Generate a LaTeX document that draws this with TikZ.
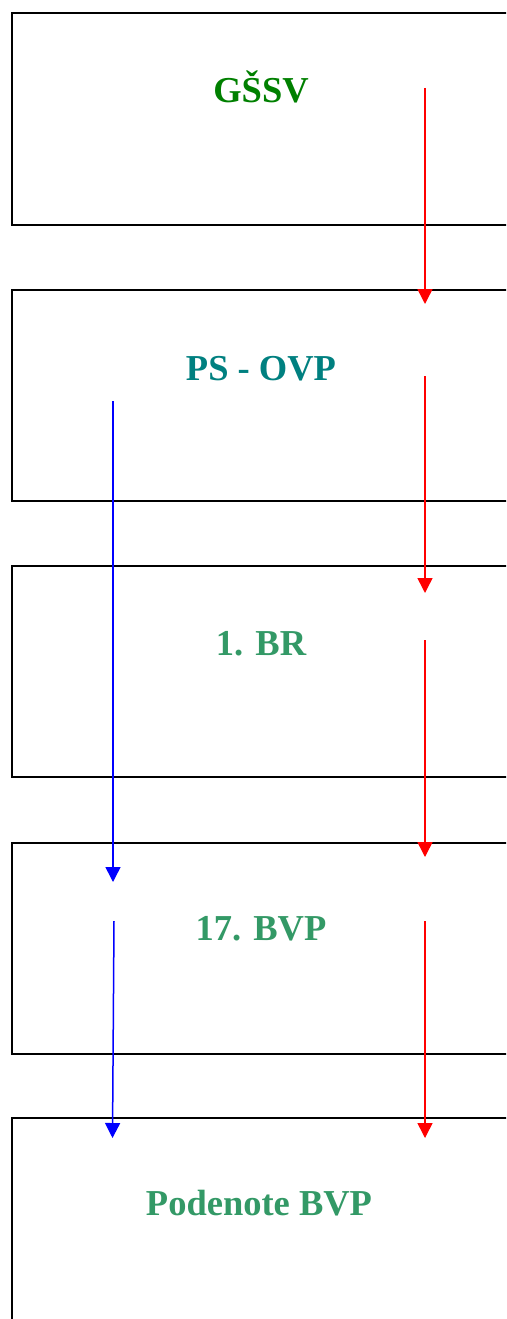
\documentclass[tikz,border=0pt]{standalone}
\usepackage{fontspec}
\setmainfont{Liberation Serif}
\usetikzlibrary{arrows.meta}
\definecolor{gssv}{RGB}{0,128,0}
\definecolor{teal2}{RGB}{0,128,128}
\definecolor{sea}{RGB}{51,153,102}
\tikzset{
  box/.style={draw=black, line width=2pt, rectangle, anchor=north west, inner sep=0pt, minimum width=520pt, minimum height=211pt},
  lbl/.style={font=\fontsize{36.5}{40}\selectfont\bfseries, anchor=base, inner sep=0pt},
  redarr/.style={draw={rgb,255:red,255;green,0;blue,0}, line width=1.5pt, -{Triangle[length=15pt,width=15pt]}},
  bluearr/.style={draw={rgb,255:red,0;green,0;blue,255}, line width=1.5pt, -{Triangle[length=15pt,width=15pt]}},
}
\begin{document}
\begin{tikzpicture}[x=1pt,y=-1pt]
\useasboundingbox (0,0) rectangle (506,1319);
\clip (0,0) rectangle (506,1319);
\fill[white] (0,0) rectangle (506,1319);
% boxes
\node[box] (b1) at (10.5,12.5) {};
\node[box] (b2) at (10.5,288.5) {};
\node[box] (b3) at (10.5,564.5) {};
\node[box] (b4) at (10.5,841.5) {};
\node[box, minimum height=260pt] (b5) at (10.5,1116.5) {};
% labels
\node[lbl, text=gssv] (t1) at (261,103) {GŠSV};
\node[lbl, text=teal2] (t2) at (261,380) {PS - OVP};
\node[lbl, text=sea] (t3) at (261,655) {1. BR};
\node[lbl, text=sea] (t4) at (261,940) {17. BVP};
\node[lbl, text=sea] (t5) at (259,1215) {Podenote BVP};
% arrow end points
\coordinate (r1s) at (425,88);  \coordinate (r1e) at (425,304);
\coordinate (r2s) at (425,376); \coordinate (r2e) at (425,593);
\coordinate (r3s) at (425,640); \coordinate (r3e) at (425,857);
\coordinate (r4s) at (425,921); \coordinate (r4e) at (425,1138);
\coordinate (u1s) at (113,401); \coordinate (u1e) at (113,882);
\coordinate (u2s) at (114,921); \coordinate (u2e) at (112.5,1138);
\draw[redarr] (r1s) -- (r1e);
\draw[redarr] (r2s) -- (r2e);
\draw[redarr] (r3s) -- (r3e);
\draw[redarr] (r4s) -- (r4e);
\draw[bluearr] (u1s) -- (u1e);
\draw[bluearr] (u2s) -- (u2e);
\end{tikzpicture}
\end{document}
